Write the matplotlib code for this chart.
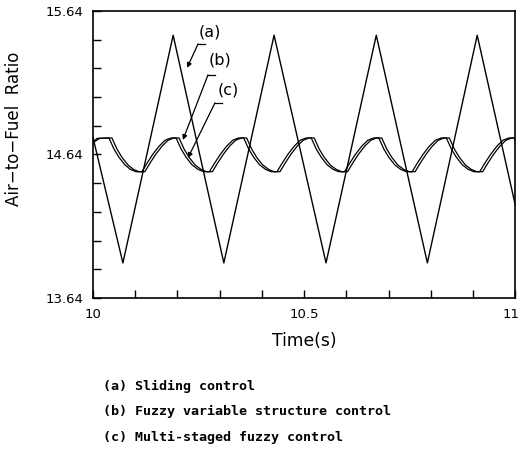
import matplotlib
matplotlib.use("Agg")
import matplotlib.pyplot as plt
from matplotlib.transforms import ScaledTranslation

# ---- data ----
# (a) sliding control: triangle wave vertices
t_a = [10.000, 10.071, 10.190, 10.310, 10.429, 10.552, 10.671, 10.792, 10.910, 11.000]
v_a = [14.76, 13.885, 15.47, 13.885, 15.47, 13.885, 15.47, 13.885, 15.47, 14.29]

# (b) fuzzy variable structure control
t_b = [10.000, 10.010, 10.038, 10.050, 10.062, 10.076, 10.089,
       10.102, 10.116, 10.128, 10.142, 10.157, 10.171, 10.185, 10.197, 10.209, 10.221, 10.235, 10.249,
       10.262, 10.276, 10.288, 10.302, 10.317, 10.331, 10.345, 10.357, 10.369, 10.381, 10.395, 10.409,
       10.422, 10.436, 10.448, 10.462, 10.477, 10.491, 10.505, 10.517, 10.529, 10.541, 10.555, 10.569,
       10.582, 10.596, 10.608, 10.622, 10.637, 10.651, 10.665, 10.677, 10.689, 10.701, 10.715, 10.729,
       10.742, 10.756, 10.768, 10.782, 10.797, 10.811, 10.825, 10.837, 10.849, 10.861, 10.875, 10.889,
       10.902, 10.916, 10.928, 10.942, 10.957, 10.971, 10.985, 10.997, 11.000]
v_b = [14.728, 14.752, 14.755, 14.677, 14.619, 14.567, 14.536,
       14.520, 14.520, 14.579, 14.642, 14.699, 14.739, 14.755, 14.755, 14.677, 14.619, 14.567, 14.536,
       14.520, 14.520, 14.579, 14.642, 14.699, 14.739, 14.755, 14.755, 14.677, 14.619, 14.567, 14.536,
       14.520, 14.520, 14.579, 14.642, 14.699, 14.739, 14.755, 14.755, 14.677, 14.619, 14.567, 14.536,
       14.520, 14.520, 14.579, 14.642, 14.699, 14.739, 14.755, 14.755, 14.677, 14.619, 14.567, 14.536,
       14.520, 14.520, 14.579, 14.642, 14.699, 14.739, 14.755, 14.755, 14.677, 14.619, 14.567, 14.536,
       14.520, 14.520, 14.579, 14.642, 14.699, 14.739, 14.755, 14.755, 14.735]

# (c) multi-staged fuzzy control (lags (b) slightly)
t_c = [10.000, 10.016, 10.045, 10.057, 10.069, 10.083, 10.096,
       10.109, 10.123, 10.135, 10.149, 10.164, 10.178, 10.192, 10.204, 10.216, 10.228, 10.242, 10.256,
       10.269, 10.283, 10.295, 10.309, 10.324, 10.338, 10.352, 10.364, 10.376, 10.388, 10.402, 10.416,
       10.429, 10.443, 10.455, 10.469, 10.484, 10.498, 10.512, 10.524, 10.536, 10.548, 10.562, 10.576,
       10.589, 10.603, 10.615, 10.629, 10.644, 10.658, 10.672, 10.684, 10.696, 10.708, 10.722, 10.736,
       10.749, 10.763, 10.775, 10.789, 10.804, 10.818, 10.832, 10.844, 10.856, 10.868, 10.882, 10.896,
       10.909, 10.923, 10.935, 10.949, 10.964, 10.978, 10.992, 11.000]
v_c = [14.722, 14.752, 14.755, 14.677, 14.619, 14.567, 14.536,
       14.520, 14.520, 14.579, 14.642, 14.699, 14.739, 14.755, 14.755, 14.677, 14.619, 14.567, 14.536,
       14.520, 14.520, 14.579, 14.642, 14.699, 14.739, 14.755, 14.755, 14.677, 14.619, 14.567, 14.536,
       14.520, 14.520, 14.579, 14.642, 14.699, 14.739, 14.755, 14.755, 14.677, 14.619, 14.567, 14.536,
       14.520, 14.520, 14.579, 14.642, 14.699, 14.739, 14.755, 14.755, 14.677, 14.619, 14.567, 14.536,
       14.520, 14.520, 14.579, 14.642, 14.699, 14.739, 14.755, 14.755, 14.677, 14.619, 14.567, 14.536,
       14.520, 14.520, 14.579, 14.642, 14.699, 14.739, 14.755, 14.755]

y_ticks = [13.64, 13.84, 14.04, 14.24, 14.44, 14.64, 14.84, 15.04, 15.24, 15.44, 15.64]
y_labels = ["13.64", "", "", "", "", "14.64", "", "", "", "", "15.64"]
x_ticks = [10.0, 10.1, 10.2, 10.3, 10.4, 10.5, 10.6, 10.7, 10.8, 10.9, 11.0]
x_labels = ["10", "", "", "", "", "10.5", "", "", "", "", "11"]

legend_lines = ["(a) Sliding control",
                "(b) Fuzzy variable structure control",
                "(c) Multi-staged fuzzy control"]

# ---- figure ----
fig = plt.figure(figsize=(5.22, 4.51), dpi=100)
ax = fig.add_axes([0.178, 0.339, 0.809, 0.637])

ax.plot(t_a, v_a, color="black", lw=1.0)
ax.plot(t_b, v_b, color="black", lw=0.9)
ax.plot(t_c, v_c, color="black", lw=0.9)

ax.set_xlim(10, 11)
ax.set_ylim(13.64, 15.64)
ax.set_yticks(y_ticks)
ax.set_yticklabels(y_labels)
ax.set_xticks(x_ticks)
ax.set_xticklabels(x_labels)
ax.tick_params(direction="in", length=6, width=1.0, labelsize=9.5, pad=7,
               top=False, right=False)
for s in ax.spines.values():
    s.set_linewidth(1.2)

# keep the "11" label inside the figure
lbl = ax.get_xticklabels()[-1]
lbl.set_transform(lbl.get_transform() + ScaledTranslation(-0.04, 0, fig.dpi_scale_trans))

ax.set_xlabel("Time(s)", fontsize=12.3, labelpad=8)
ax.set_ylabel("Air\u2212to\u2212Fuel  Ratio", fontsize=12)
ax.yaxis.set_label_coords(-0.165, 0.59)

# curve labels with leader arrows
marks = [("(a)", (10.277, 15.494), (10.265, 10.249), 15.41, (10.223, 15.243)),
         ("(b)", (10.301, 15.298), (10.289, 10.2725), 15.194, (10.213, 14.741)),
         ("(c)", (10.320, 15.089), (10.306, 10.289), 14.999, (10.225, 14.616))]
for txt, pos, stub, sy, tip in marks:
    ax.text(pos[0], pos[1], txt, fontsize=11.5, ha="center", va="center")
    ax.plot([stub[0], stub[1]], [sy, sy], color="black", lw=0.9)
    ax.annotate("", xy=tip, xytext=(stub[1], sy),
                arrowprops=dict(arrowstyle="-|>", color="black", lw=0.9,
                                mutation_scale=7, shrinkA=0, shrinkB=0))

for i, line in enumerate(legend_lines):
    fig.text(103 / 522, 1 - (386 + 25.5 * i) / 451, line,
             family="DejaVu Sans Mono", fontweight="bold", fontsize=9.6,
             ha="left", va="center")

fig.savefig("out.png", dpi=100)
